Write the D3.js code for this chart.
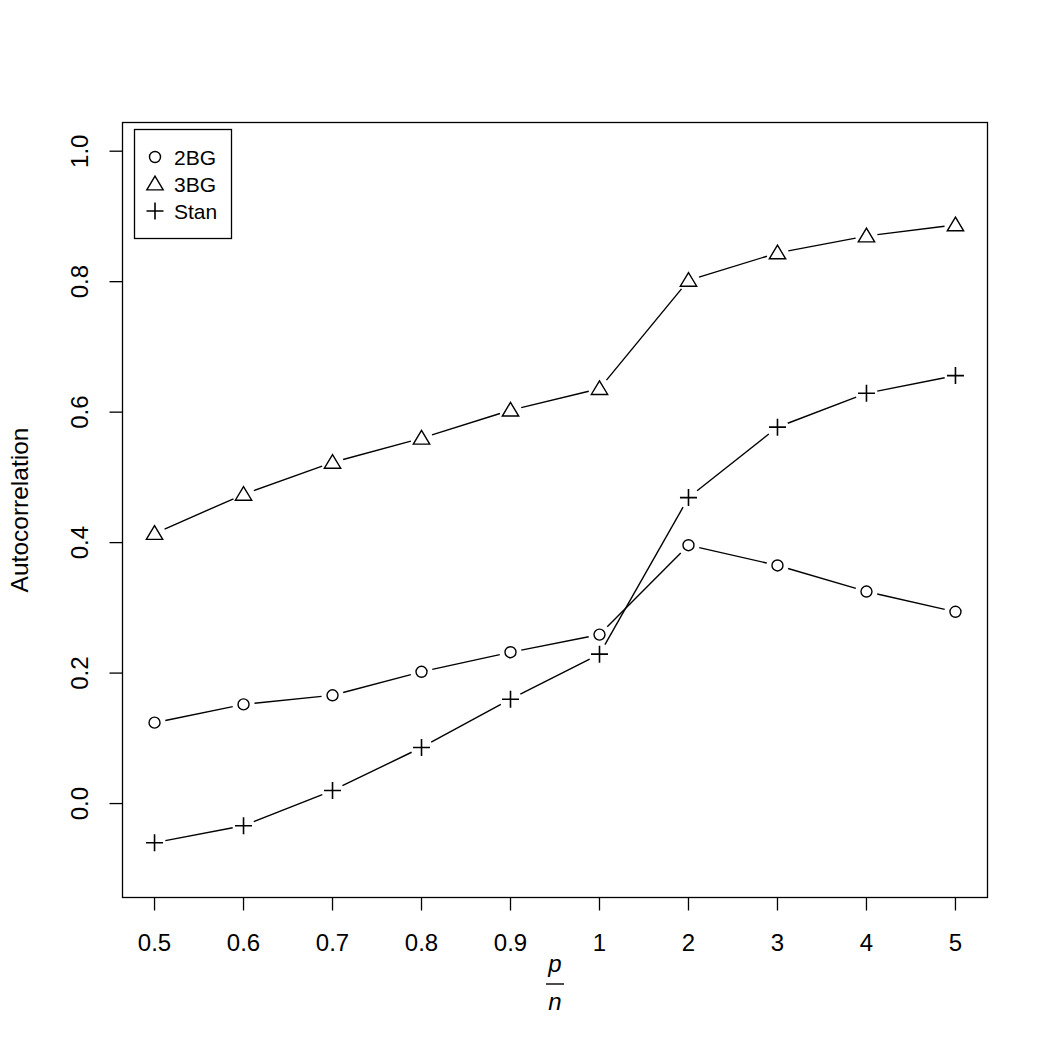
<!DOCTYPE html>
<html><head><meta charset="utf-8">
<script src="https://cdn.jsdelivr.net/npm/d3@7"></script>
<style>body{margin:0;background:#fff}text{font-family:"Liberation Sans",Arial,sans-serif;fill:#000}</style>
</head><body>
<svg id="c" width="1050" height="1050"></svg>
<script>
const categories = ["0.5","0.6","0.7","0.8","0.9","1","2","3","4","5"];
const bg2 = [0.124,0.152,0.166,0.202,0.232,0.259,0.396,0.365,0.325,0.294];
const bg3 = [0.414,0.474,0.523,0.560,0.603,0.636,0.802,0.844,0.870,0.887];
const stan = [-0.060,-0.034,0.020,0.086,0.160,0.229,0.469,0.577,0.629,0.656];
const yTicks = [0.0,0.2,0.4,0.6,0.8,1.0];
const seriesNames = ["2BG","3BG","Stan"];

const svg = d3.select("#c");
const L=122.5,R=987.5,T=122.5,B=897.5;
const x = d3.scaleLinear().domain([0.64,10.36]).range([L,R]);
const y = d3.scaleLinear().domain([-0.144,1.044]).range([B,T]);

svg.append("rect").attr("x",L).attr("y",T).attr("width",R-L).attr("height",B-T)
  .attr("fill","none").attr("stroke","#000").attr("stroke-width",1.3);

// x axis
const xa = svg.append("g");
categories.forEach((c,i)=>{
  const px = x(i+1);
  xa.append("line").attr("x1",px).attr("x2",px).attr("y1",B).attr("y2",B+13).attr("stroke","#000").attr("stroke-width",1.3);
  xa.append("text").attr("x",px).attr("y",951).attr("text-anchor","middle").attr("font-size",24).text(c);
});
// y axis
yTicks.forEach(v=>{
  const py = y(v);
  svg.append("line").attr("x1",L-13).attr("x2",L).attr("y1",py).attr("y2",py).attr("stroke","#000").attr("stroke-width",1.3);
  svg.append("text").attr("transform",`translate(88,${py}) rotate(-90)`).attr("text-anchor","middle").attr("font-size",24).text(v.toFixed(1));
});
svg.append("text").attr("transform",`translate(28,${(T+B)/2}) rotate(-90)`).attr("text-anchor","middle").attr("font-size",24.5).text("Autocorrelation");
// x label fraction
const cx = 555;
svg.append("text").attr("x",cx).attr("y",972).attr("text-anchor","middle").attr("font-size",24).attr("font-style","italic").text("p");
svg.append("line").attr("x1",cx-9).attr("x2",cx+9).attr("y1",984).attr("y2",984).attr("stroke","#000").attr("stroke-width",1.4);
svg.append("text").attr("x",cx).attr("y",1010).attr("text-anchor","middle").attr("font-size",24).attr("font-style","italic").text("n");

function symbol(g,type,px,py){
  if(type===0) g.append("circle").attr("cx",px).attr("cy",py).attr("r",5.5).attr("fill","none").attr("stroke","#000").attr("stroke-width",1.4);
  else if(type===1){
    const s=7.8;
    g.append("path").attr("d",`M${px},${py-s}L${px+s*1.05},${py+s*0.75}L${px-s*1.05},${py+s*0.75}Z`).attr("fill","none").attr("stroke","#000").attr("stroke-width",1.4);
  } else {
    g.append("path").attr("d",`M${px-8.5},${py}H${px+8.5}M${px},${py-8.5}V${py+8.5}`).attr("stroke","#000").attr("stroke-width",1.6);
  }
}
const allSeries=[bg2,bg3,stan];
const gap=11;
allSeries.forEach((vals,si)=>{
  const g=svg.append("g");
  for(let i=0;i<vals.length-1;i++){
    const x1=x(i+1),y1=y(vals[i]),x2=x(i+2),y2=y(vals[i+1]);
    const dx=x2-x1,dy=y2-y1,len=Math.hypot(dx,dy);
    if(len<=2*gap) continue;
    const ux=dx/len,uy=dy/len;
    g.append("line").attr("x1",x1+ux*gap).attr("y1",y1+uy*gap).attr("x2",x2-ux*gap).attr("y2",y2-uy*gap).attr("stroke","#000").attr("stroke-width",1.4);
  }
  vals.forEach((v,i)=>symbol(g,si,x(i+1),y(v)));
});
// legend
const lg=svg.append("g");
lg.append("rect").attr("x",134.5).attr("y",129.5).attr("width",97).attr("height",109).attr("fill","#fff").attr("stroke","#000").attr("stroke-width",1.3);
seriesNames.forEach((n,i)=>{
  const py=157+i*27;
  symbol(lg,i,155,py);
  lg.append("text").attr("x",174).attr("y",py+7.5).attr("font-size",21).text(n);
});
</script>
</body></html>
